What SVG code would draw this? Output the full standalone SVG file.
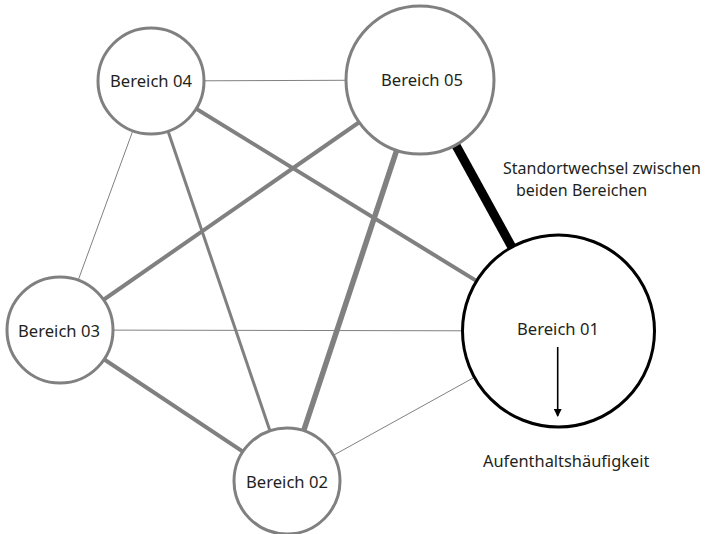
<svg xmlns="http://www.w3.org/2000/svg" width="718" height="534" viewBox="0 0 718 534">
<defs>
<style>
.node{fill:#fff;stroke:#808080;stroke-width:3}
.main{fill:#fff;stroke:#000;stroke-width:3}
.lbl{font-family:"Noto Sans","Open Sans",sans-serif;font-size:16.6px;fill:#231f20;text-anchor:middle}
.note{font-family:"Noto Sans","Open Sans",sans-serif;font-size:16px;fill:#231f20}
.c{stroke:#808080;fill:none}
</style>
<marker id="ah" markerWidth="8" markerHeight="8" refX="7" refY="4" orient="auto" markerUnits="userSpaceOnUse">
<path d="M0,0 L8,4 L0,8 Z" fill="#000"/>
</marker>
</defs>
<rect width="718" height="534" fill="#fff"/>
<g id="connectors">
<line class="c" x1="151" y1="81" x2="420" y2="80" stroke-width="1"/>
<line class="c" x1="151" y1="81" x2="558" y2="331" stroke-width="4"/>
<line class="c" x1="151" y1="81" x2="287" y2="481" stroke-width="3"/>
<line class="c" x1="151" y1="81" x2="60" y2="330" stroke-width="1"/>
<line class="c" x1="420" y1="80" x2="60" y2="330" stroke-width="4"/>
<line class="c" x1="420" y1="80" x2="287" y2="481" stroke-width="5.5"/>
<line x1="420" y1="80" x2="558" y2="331" stroke="#000" stroke-width="9"/>
<line class="c" x1="60" y1="330" x2="558" y2="331" stroke-width="1"/>
<line class="c" x1="60" y1="330" x2="287" y2="481" stroke-width="4"/>
<line class="c" x1="287" y1="481" x2="558" y2="331" stroke-width="1"/>
</g>
<g id="b04"><circle class="node" cx="151" cy="81" r="53"/><text class="lbl" x="151" y="87">Bereich 04</text></g>
<g id="b05"><circle class="node" cx="420" cy="80" r="74"/><text class="lbl" x="422" y="86">Bereich 05</text></g>
<g id="b03"><circle class="node" cx="60" cy="330" r="53"/><text class="lbl" x="59" y="337">Bereich 03</text></g>
<g id="b02"><circle class="node" cx="287" cy="481" r="53"/><text class="lbl" x="287" y="488">Bereich 02</text></g>
<g id="b01"><circle class="main" cx="558.5" cy="331" r="96"/><text class="lbl" x="558" y="335">Bereich 01</text>
<line x1="557.7" y1="347" x2="557.7" y2="416" stroke="#000" stroke-width="1.6" marker-end="url(#ah)"/></g>
<g id="notes">
<text class="note" x="503" y="174">Standortwechsel zwischen</text>
<text class="note" x="516" y="196">beiden Bereichen</text>
<text class="note" x="483" y="467" style="font-size:16.4px">Aufenthaltshäufigkeit</text>
</g>
</svg>
